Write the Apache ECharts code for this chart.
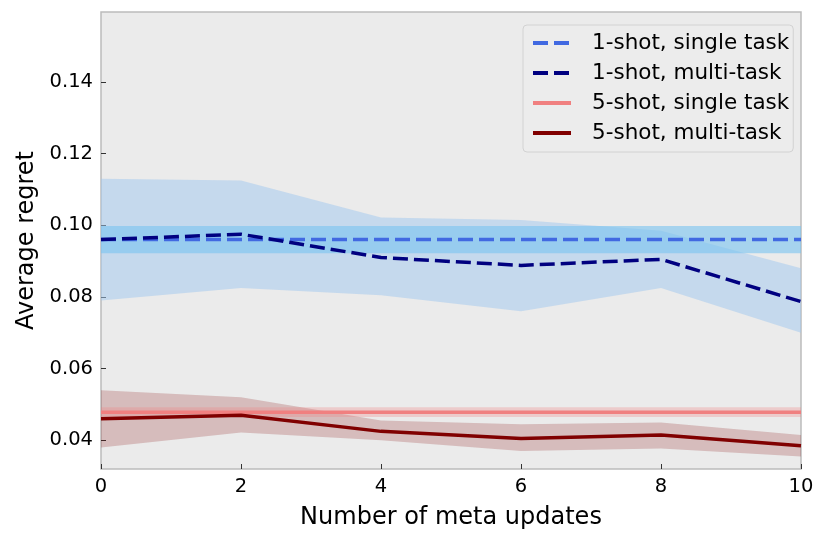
<!DOCTYPE html>
<html><head><meta charset="utf-8">
<script src="https://cdn.jsdelivr.net/npm/echarts@6/dist/echarts.min.js"></script>
<style>html,body{margin:0;padding:0;background:#fff}#c{width:830px;height:545px}</style>
</head><body><div id="c"></div>
<script>
const metaUpdates = ['0', '2', '4', '6', '8', '10'];
const yTicks = [0.04, 0.06, 0.08, 0.10, 0.12, 0.14];

const oneShotSingleMean  = [0.096, 0.096, 0.096, 0.096, 0.096, 0.096];
const oneShotSingleLow   = [0.0922, 0.0922, 0.0922, 0.0922, 0.0922, 0.0922];
const oneShotSingleHigh  = [0.0998, 0.0998, 0.0998, 0.0998, 0.0998, 0.0998];

const oneShotMultiMean   = [0.096, 0.0975, 0.091, 0.0888, 0.0905, 0.0787];
const oneShotMultiLow    = [0.079, 0.0825, 0.0805, 0.0760, 0.0825, 0.0700];
const oneShotMultiHigh   = [0.113, 0.1125, 0.1022, 0.1015, 0.0985, 0.0880];

const fiveShotSingleMean = [0.0478, 0.0478, 0.0478, 0.0478, 0.0478, 0.0478];
const fiveShotSingleLow  = [0.0465, 0.0465, 0.0465, 0.0465, 0.0465, 0.0465];
const fiveShotSingleHigh = [0.0492, 0.0492, 0.0492, 0.0492, 0.0492, 0.0492];

const fiveShotMultiMean  = [0.046, 0.047, 0.0425, 0.0405, 0.0415, 0.0385];
const fiveShotMultiLow   = [0.038, 0.0422, 0.0400, 0.0370, 0.0377, 0.0355];
const fiveShotMultiHigh  = [0.054, 0.0520, 0.0455, 0.0445, 0.0450, 0.0415];

const names = ['1-shot, single task', '1-shot, multi-task', '5-shot, single task', '5-shot, multi-task'];

const diff = (hi, lo) => hi.map((h, i) => +(h - lo[i]).toFixed(6));

function band(id, lo, hi, color, z) {
  return [
    { type: 'line', name: id + '_lo', stack: id, data: lo, symbol: 'none', silent: true,
      lineStyle: { width: 0, opacity: 0 }, z: z },
    { type: 'line', name: id + '_hi', stack: id, data: diff(hi, lo), symbol: 'none', silent: true,
      lineStyle: { width: 0, opacity: 0 }, areaStyle: { color: color, opacity: 1 }, z: z }
  ];
}
const font = 'DejaVu Sans';
const option = {
  animation: false,
  backgroundColor: '#ffffff',
  grid: { left: 101, right: 29, top: 12, bottom: 76, show: true, backgroundColor: '#ebebeb',
          borderColor: '#bcbcbc', borderWidth: 1.5 },
  xAxis: {
    type: 'category', data: metaUpdates, boundaryGap: false,
    name: 'Number of meta updates', nameLocation: 'middle', nameGap: 37,
    nameTextStyle: { fontFamily: font, fontSize: 24, color: '#000' },
    axisLine: { show: false },
    axisTick: { show: true, inside: true, length: 5, lineStyle: { color: '#333', width: 1 } },
    axisLabel: { fontFamily: font, fontSize: 19.5, color: '#000', margin: 8 },
    splitLine: { show: false }
  },
  yAxis: {
    type: 'value', min: 0.032, max: 0.1595,
    name: 'Average regret', nameLocation: 'middle', nameGap: 58,
    nameTextStyle: { fontFamily: font, fontSize: 24, color: '#000' },
    axisLine: { show: false },
    axisTick: { show: true, inside: true, length: 5, customValues: yTicks, lineStyle: { color: '#333', width: 1 } },
    axisLabel: { fontFamily: font, fontSize: 19.5, color: '#000', margin: 8, customValues: yTicks,
                 formatter: v => v.toFixed(2) },
    splitLine: { show: false }
  },
  legend: {
    show: true, left: 523, top: 25, orient: 'vertical',
    data: names, itemWidth: 38, itemHeight: 16, itemGap: 8,
    padding: [7, 4, 8, 8],
    backgroundColor: '#ececec', borderColor: '#d2d2d2', borderWidth: 1, borderRadius: 4,
    itemStyle: { opacity: 0 },
    lineStyle: { width: 4 },
    textStyle: { fontFamily: font, fontSize: 21.5, color: '#000', padding: [0, 0, 0, 16] }
  },
  series: [
    ...band('b1m', oneShotMultiLow, oneShotMultiHigh, 'rgba(160,200,240,0.5)', 1),
    ...band('b1s', oneShotSingleLow, oneShotSingleHigh, 'rgba(120,195,240,0.6)', 2),
    ...band('b5m', fiveShotMultiLow, fiveShotMultiHigh, 'rgba(128,0,0,0.2)', 1),
    ...band('b5s', fiveShotSingleLow, fiveShotSingleHigh, 'rgba(240,128,128,0.3)', 2),
    { type: 'line', name: names[0], data: oneShotSingleMean, symbol: 'none', z: 5,
      lineStyle: { color: '#4169e1', width: 3.5, type: [15, 6] }, itemStyle: { color: '#4169e1' } },
    { type: 'line', name: names[1], data: oneShotMultiMean, symbol: 'none', z: 6,
      lineStyle: { color: '#000080', width: 3.5, type: [15, 6] }, itemStyle: { color: '#000080' } },
    { type: 'line', name: names[2], data: fiveShotSingleMean, symbol: 'none', z: 5,
      lineStyle: { color: '#f08080', width: 3.5 }, itemStyle: { color: '#f08080' } },
    { type: 'line', name: names[3], data: fiveShotMultiMean, symbol: 'none', z: 6,
      lineStyle: { color: '#800000', width: 3.5 }, itemStyle: { color: '#800000' } }
  ]
};
echarts.init(document.getElementById('c'), null, { renderer: 'canvas' }).setOption(option);
</script></body></html>
